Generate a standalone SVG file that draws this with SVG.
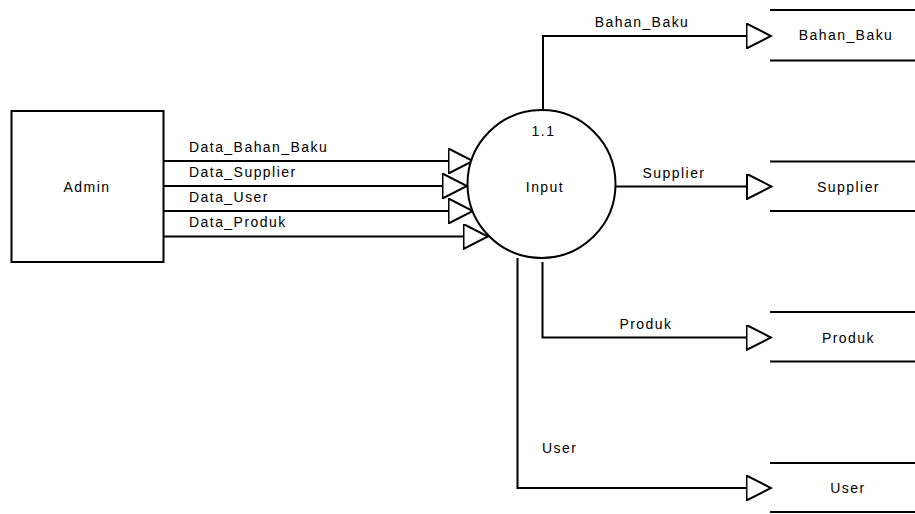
<svg xmlns="http://www.w3.org/2000/svg" width="915" height="514" viewBox="0 0 915 514">
<style>
.ln{fill:none;stroke:#000;stroke-width:2}
.nd{fill:#fff;stroke:#000;stroke-width:2}
text{font-family:"Liberation Sans",Arial,sans-serif;font-size:14px;letter-spacing:1.45px;fill:#000}
.c{text-anchor:middle}
</style>
<defs>
<marker id="tri" viewBox="0 0 27 26" refX="25.5" refY="13" markerWidth="27" markerHeight="26" markerUnits="userSpaceOnUse" orient="auto">
<path d="M1,0.5 L25.5,13 L1,25.5 Z" fill="#fff" stroke="#000" stroke-width="2"/>
</marker>
</defs>
<rect width="915" height="514" fill="#fff"/>
<g id="connectors">
<polyline class="ln" points="163,161 473,161" marker-end="url(#tri)"/>
<polyline class="ln" points="163,186 467,186" marker-end="url(#tri)"/>
<polyline class="ln" points="163,211 473,211" marker-end="url(#tri)"/>
<polyline class="ln" points="163,236.5 488,236.5" marker-end="url(#tri)"/>
<polyline class="ln" points="543,110 543,36 771,36" marker-end="url(#tri)"/>
<polyline class="ln" points="616,186.5 771.5,186.5" marker-end="url(#tri)"/>
<polyline class="ln" points="542.5,262 542.5,337.5 771,337.5" marker-end="url(#tri)"/>
<polyline class="ln" points="517.5,258 517.5,488 771,488" marker-end="url(#tri)"/>
<text x="189" y="152">Data_Bahan_Baku</text>
<text x="189" y="177">Data_Supplier</text>
<text x="189" y="202">Data_User</text>
<text x="189" y="227">Data_Produk</text>
<text class="c" x="642" y="26.5">Bahan_Baku</text>
<text class="c" x="674" y="177.5">Supplier</text>
<text class="c" x="646" y="329">Produk</text>
<text x="542" y="453">User</text>
</g>
<g id="admin">
<rect class="nd" x="11.5" y="111" width="152" height="151"/>
<text class="c" x="87" y="192">Admin</text>
</g>
<g id="process-1-1">
<circle class="nd" cx="541.5" cy="184" r="74"/>
<text class="c" x="543.5" y="135.5">1.1</text>
<text class="c" x="545" y="191.5">Input</text>
</g>
<g id="store-bahan-baku">
<path class="ln" d="M770,10 H915 M770,60.5 H915"/>
<text class="c" x="846" y="40">Bahan_Baku</text>
</g>
<g id="store-supplier">
<path class="ln" d="M770,161.5 H915 M770,211 H915"/>
<text class="c" x="848.5" y="191.5">Supplier</text>
</g>
<g id="store-produk">
<path class="ln" d="M770,312 H915 M770,361.5 H915"/>
<text class="c" x="848.5" y="343">Produk</text>
</g>
<g id="store-user">
<path class="ln" d="M770,463 H915 M770,512 H915"/>
<text class="c" x="848" y="493">User</text>
</g>
</svg>
